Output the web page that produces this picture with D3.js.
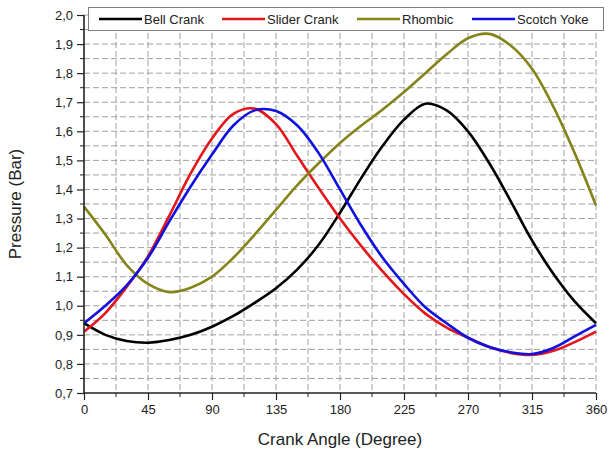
<!DOCTYPE html>
<html>
<head>
<meta charset="utf-8">
<script src="https://cdn.jsdelivr.net/npm/d3@7"></script>
<style>
  body { margin: 0; background: #fff; }
  svg text { font-family: "Liberation Sans", Arial, sans-serif; }
</style>
</head>
<body>
<div id="chart"></div>
<script>
// crank angle samples (degrees)
const angles = [0, 15, 30, 45, 60, 75, 90, 105, 120, 135, 150, 165, 180,
  195, 210, 225, 240, 255, 270, 285, 300, 315, 330, 345, 360];

// pressure in bar for each mechanism
const bellCrank = [0.94, 0.90, 0.879, 0.873, 0.882, 0.90, 0.928, 0.965, 1.01, 1.06, 1.125, 1.21, 1.32,
  1.44, 1.55, 1.64, 1.695, 1.672, 1.60, 1.49, 1.36, 1.225, 1.11, 1.015, 0.94];
const sliderCrank = [0.911, 0.975, 1.065, 1.17, 1.31, 1.455, 1.575, 1.66, 1.678, 1.625, 1.515, 1.405, 1.30,
  1.205, 1.118, 1.04, 0.973, 0.925, 0.89, 0.858, 0.838, 0.831, 0.845, 0.875, 0.911];
const rhombic = [1.341, 1.245, 1.14, 1.075, 1.047, 1.062, 1.10, 1.165, 1.245, 1.33, 1.415, 1.49, 1.56,
  1.62, 1.675, 1.735, 1.80, 1.865, 1.92, 1.935, 1.895, 1.815, 1.685, 1.525, 1.345];
const scotchYoke = [0.94, 1.00, 1.07, 1.165, 1.29, 1.41, 1.52, 1.62, 1.672, 1.67, 1.62, 1.525, 1.40,
  1.275, 1.165, 1.075, 0.995, 0.94, 0.89, 0.858, 0.84, 0.834, 0.855, 0.895, 0.934];

const seriesNames = ["Bell Crank", "Slider Crank", "Rhombic", "Scotch Yoke"];
const seriesColors = ["#000000", "#e3161c", "#84841a", "#1010e0"];
const seriesValues = [bellCrank, sliderCrank, rhombic, scotchYoke];

const xTicks = [0, 45, 90, 135, 180, 225, 270, 315, 360];
const yTicks = [0.7, 0.8, 0.9, 1.0, 1.1, 1.2, 1.3, 1.4, 1.5, 1.6, 1.7, 1.8, 1.9, 2.0];

const width = 609, height = 454;
const margin = {top: 15, right: 13, bottom: 61, left: 84};
const plotW = width - margin.left - margin.right;
const plotH = height - margin.top - margin.bottom;

const svg = d3.select("#chart").append("svg")
  .attr("width", width)
  .attr("height", height);

const g = svg.append("g")
  .attr("transform", "translate(" + margin.left + "," + margin.top + ")");

const x = d3.scaleLinear().domain([0, 360]).range([0, plotW]);
const y = d3.scaleLinear().domain([0.7, 2.0]).range([plotH, 0]);

const fmt = d => d3.format(".1f")(d).replace(".", ",");

// dashed grid, every major and minor step
const gridX = d3.range(22.5, 360.1, 22.5);
const gridY = d3.range(0.75, 2.001, 0.05);

g.selectAll(".gx").data(gridX).enter().append("line")
  .attr("x1", d => x(d)).attr("x2", d => x(d))
  .attr("y1", 0).attr("y2", plotH)
  .attr("stroke", "#a0a0a0").attr("stroke-width", 1)
  .attr("stroke-dasharray", "6,3");

g.selectAll(".gy").data(gridY).enter().append("line")
  .attr("x1", 0).attr("x2", plotW)
  .attr("y1", d => y(d)).attr("y2", d => y(d))
  .attr("stroke", "#a0a0a0").attr("stroke-width", 1)
  .attr("stroke-dasharray", "6,3");

// curves
const line = d3.line()
  .x((d, i) => x(angles[i]))
  .y(d => y(d))
  .curve(d3.curveCatmullRom.alpha(0.5));

seriesValues.forEach(function(vals, i) {
  g.append("path")
    .datum(vals)
    .attr("d", line)
    .attr("fill", "none")
    .attr("stroke", seriesColors[i])
    .attr("stroke-width", 2.6)
    .attr("stroke-linejoin", "round");
});

// x axis
const xAxis = d3.axisBottom(x).tickValues(xTicks).tickSize(7).tickPadding(5).tickFormat(d3.format("d"));
const gx = g.append("g").attr("transform", "translate(0," + plotH + ")").call(xAxis);
gx.append("g").selectAll("line").data(d3.range(22.5, 360, 45)).enter().append("line")
  .attr("x1", d => x(d)).attr("x2", d => x(d))
  .attr("y1", 0).attr("y2", 4)
  .attr("stroke", "#222");

// y axis
const yAxis = d3.axisLeft(y).tickValues(yTicks).tickSize(7).tickPadding(4).tickFormat(fmt);
const gy = g.append("g").call(yAxis);
gy.append("g").selectAll("line").data(d3.range(0.75, 2.0, 0.1)).enter().append("line")
  .attr("x1", 0).attr("x2", -4)
  .attr("y1", d => y(d)).attr("y2", d => y(d))
  .attr("stroke", "#222");

[gx, gy].forEach(function(a) {
  a.select(".domain").attr("stroke", "#222").attr("stroke-width", 1.6);
  a.selectAll(".tick line").attr("stroke", "#222").attr("stroke-width", 1.2);
  a.selectAll("text").attr("font-size", 13).attr("fill", "#222")
    .style("font-family", "'Liberation Sans', Arial, sans-serif");
});
gx.select(".domain").attr("d", "M0,0H" + plotW);
gy.select(".domain").attr("d", "M0," + plotH + "V0");

// axis titles
svg.append("text")
  .attr("x", margin.left + plotW / 2)
  .attr("y", 445)
  .attr("text-anchor", "middle")
  .attr("font-size", 17)
  .attr("fill", "#222")
  .text("Crank Angle (Degree)");

svg.append("text")
  .attr("transform", "translate(21," + (margin.top + plotH / 2) + ") rotate(-90)")
  .attr("text-anchor", "middle")
  .attr("font-size", 17)
  .attr("fill", "#222")
  .text("Pressure (Bar)");

// legend box along the top
const legend = svg.append("g");
legend.append("rect")
  .attr("x", 88.5).attr("y", 7.5)
  .attr("width", 515).attr("height", 23)
  .attr("fill", "#fff")
  .attr("stroke", "#808080").attr("stroke-width", 1);

const legendX = [99, 222, 357, 472];
seriesNames.forEach(function(name, i) {
  legend.append("line")
    .attr("x1", legendX[i]).attr("x2", legendX[i] + 43)
    .attr("y1", 19).attr("y2", 19)
    .attr("stroke", seriesColors[i]).attr("stroke-width", 2.6);
  legend.append("text")
    .attr("x", legendX[i] + 45)
    .attr("y", 23.5)
    .attr("font-size", 13)
    .attr("fill", "#222")
    .text(name);
});
</script>
</body>
</html>
